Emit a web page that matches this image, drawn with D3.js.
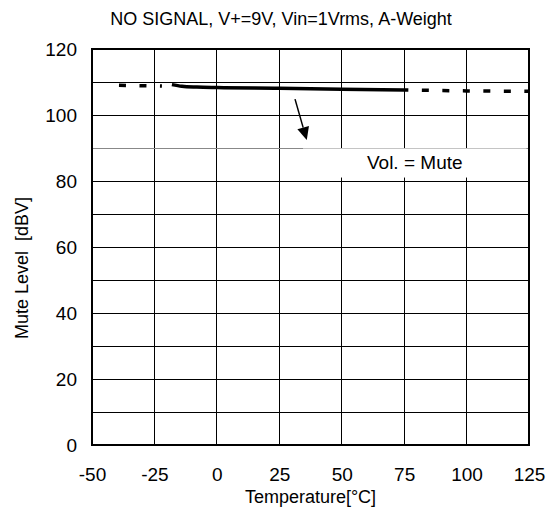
<!DOCTYPE html>
<html>
<head>
<meta charset="utf-8">
<script src="https://cdn.jsdelivr.net/npm/d3@7/dist/d3.min.js"></script>
<style>
  body { margin: 0; background: #fff; }
  svg { display: block; }
  text { font-family: "Liberation Sans", Arial, sans-serif; fill: #000; }
</style>
</head>
<body>
<div id="chart"></div>
<script>
// ---- data ----
const titleText = "NO SIGNAL, V+=9V, Vin=1Vrms, A-Weight";
const xLabel = "Temperature[°C]";
const yLabel = "Mute Level  [dBV]";
const xTicks = [-50, -25, 0, 25, 50, 75, 100, 125];
const yTicks = [0, 20, 40, 60, 80, 100, 120];
const yGrid = [10, 20, 30, 40, 50, 60, 70, 80, 90, 100, 110];

const tempSolid  = [-18, -14, -8, 0, 25, 50, 75];
const levelSolid = [109.2, 108.7, 108.45, 108.3, 108.1, 107.8, 107.6];

const tempDashLow  = [-40, -22];
const levelDashLow = [109.0, 108.8];

const tempDashHigh  = [75, 100, 125];
const levelDashHigh = [107.6, 107.3, 107.2];

const annotText = "Vol. = Mute";
const annotBoxTemp = [34.5, 124];     // x extent of label box (°C)
const annotBoxLevel = [90, 81.2];     // y extent of label box (dBV)
const arrowFrom = [31.3, 104.8];
const arrowTo = [36, 92.4];

// ---- layout ----
const W = 555, H = 521;
const svg = d3.select("#chart").append("svg").attr("width", W).attr("height", H);

const x = d3.scaleLinear().domain([-50, 125]).range([92, 529]);
const y = d3.scaleLinear().domain([0, 120]).range([445, 49]);

// gridlines
const grid = svg.append("g").attr("stroke", "#000").attr("stroke-width", 1).attr("shape-rendering", "crispEdges");
grid.selectAll("line.v").data(xTicks.slice(1, -1)).join("line")
  .attr("x1", d => x(d)).attr("x2", d => x(d))
  .attr("y1", y(120)).attr("y2", y(0));
grid.selectAll("line.h").data(yGrid).join("line")
  .attr("x1", x(-50)).attr("x2", x(125))
  .attr("y1", d => y(d)).attr("y2", d => y(d))
  .attr("stroke", d => d === 90 ? "#888" : "#000");

// annotation box (white, covers grid)
svg.append("rect")
  .attr("x", x(annotBoxTemp[0])).attr("y", y(annotBoxLevel[0]) + 0.5)
  .attr("width", x(annotBoxTemp[1]) - x(annotBoxTemp[0]))
  .attr("height", y(annotBoxLevel[1]) - y(annotBoxLevel[0]))
  .attr("fill", "#fff");
svg.append("text")
  .attr("x", x((annotBoxTemp[0] + annotBoxTemp[1]) / 2))
  .attr("y", y((annotBoxLevel[0] + annotBoxLevel[1]) / 2))
  .attr("dy", "0.35em")
  .attr("text-anchor", "middle")
  .style("font-size", "19px")
  .text(annotText);

// plot border
svg.append("rect")
  .attr("x", x(-50)).attr("y", y(120))
  .attr("width", x(125) - x(-50)).attr("height", y(0) - y(120))
  .attr("fill", "none").attr("stroke", "#000").attr("stroke-width", 2);

// axes (labels only)
const fmt = d => String(d);
const yAxis = d3.axisLeft(y).tickValues(yTicks).tickFormat(fmt).tickSize(0).tickPadding(15);
const gy = svg.append("g").attr("transform", `translate(${x(-50)},0)`).call(yAxis);
gy.select(".domain").remove();
gy.selectAll("text").style("font-size", "19px").style("font-family", "'Liberation Sans', Arial, sans-serif");

const xAxis = d3.axisBottom(x).tickValues(xTicks).tickFormat(fmt).tickSize(0).tickPadding(22.5);
const gx = svg.append("g").attr("transform", `translate(0,${y(0)})`).call(xAxis);
gx.select(".domain").remove();
gx.selectAll("text").style("font-size", "19px").style("font-family", "'Liberation Sans', Arial, sans-serif");

// lines
const lineGen = (tx, ly) => d3.line()
  .x((d, i) => x(tx[i])).y((d, i) => y(ly[i]))
  .curve(d3.curveMonotoneX)(tx);

svg.append("path").attr("d", lineGen(tempSolid, levelSolid))
  .attr("fill", "none").attr("stroke", "#000").attr("stroke-width", 3.5).attr("stroke-linecap", "butt");
svg.append("path").attr("d", lineGen(tempDashLow, levelDashLow))
  .attr("fill", "none").attr("stroke", "#000").attr("stroke-width", 3.5)
  .attr("stroke-dasharray", "7,13.5").attr("stroke-dashoffset", 18.5);
svg.append("path").attr("d", lineGen(tempDashHigh, levelDashHigh))
  .attr("fill", "none").attr("stroke", "#000").attr("stroke-width", 3.5)
  .attr("stroke-dasharray", "7,13.5").attr("stroke-dashoffset", 2.8);

// arrow
const ax1 = x(arrowFrom[0]), ay1 = y(arrowFrom[1]), ax2 = x(arrowTo[0]), ay2 = y(arrowTo[1]);
const ang = Math.atan2(ay2 - ay1, ax2 - ax1);
const headLen = 13, headHalf = 6;
const bx = ax2 - headLen * Math.cos(ang), by = ay2 - headLen * Math.sin(ang);
svg.append("line").attr("x1", ax1).attr("y1", ay1).attr("x2", bx).attr("y2", by)
  .attr("stroke", "#000").attr("stroke-width", 1.5);
svg.append("path")
  .attr("d", `M${ax2},${ay2}L${bx + headHalf * Math.sin(ang)},${by - headHalf * Math.cos(ang)}L${bx - headHalf * Math.sin(ang)},${by + headHalf * Math.cos(ang)}Z`)
  .attr("fill", "#000");

// titles
svg.append("text").attr("x", 281).attr("y", 25).attr("text-anchor", "middle")
  .style("font-size", "18px").text(titleText);
svg.append("text").attr("x", (x(-50) + x(125)) / 2).attr("y", 503).attr("text-anchor", "middle")
  .style("font-size", "18px").text(xLabel);
svg.append("text").attr("transform", `translate(28,${y(60) + 21}) rotate(-90)`).attr("text-anchor", "middle")
  .style("font-size", "18px").style("white-space", "pre").attr("xml:space", "preserve").text(yLabel);
</script>
</body>
</html>
